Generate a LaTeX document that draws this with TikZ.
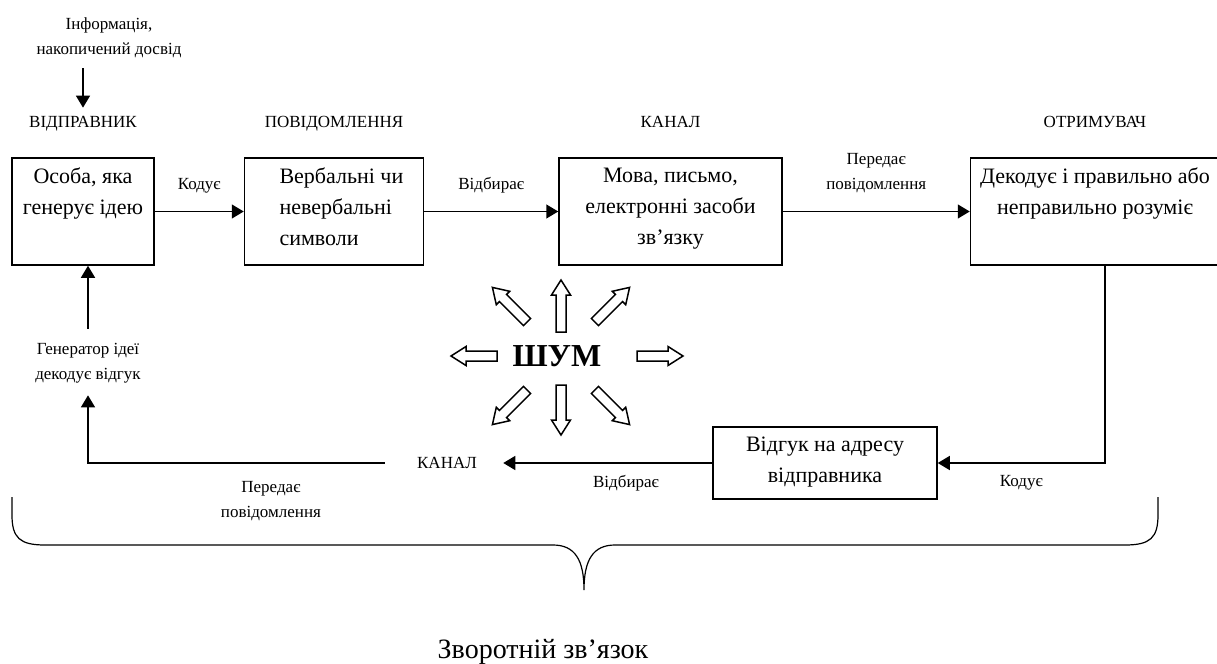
\documentclass[tikz,border=0pt]{standalone}
\usepackage{fontspec}
\setmainfont{Liberation Serif}
\usetikzlibrary{arrows.meta, positioning, calc}
\newcommand{\boxfont}{\fontsize{11}{15.5}\selectfont}
\newcommand{\lblfont}{\fontsize{8.5}{12.5}\selectfont}

\begin{document}
\begin{tikzpicture}[
    x=0.5pt, y=-0.5pt,
    box/.style n args={3}{draw, line width=0.75pt, inner sep=0pt, font=\boxfont,
        execute at begin node={\begin{minipage}[c][#2][t]{#1}#3\vspace{5pt}},
        execute at end node={\end{minipage}}},
    head/.style={font=\lblfont, inner sep=1pt},
    lbl/.style={font=\lblfont, inner sep=1pt, align=center},
    arrow/.style={-{Triangle[length=6pt, width=7pt]}, line width=0.75pt},
    noisearrow/.style={draw, line width=0.75pt, line join=miter, fill=white}
]
    \useasboundingbox (0,0) rectangle (1217,664);

    % Top row
    \node[box={71pt}{53.5pt}{\centering}] (sender) at (83,211.5) {Особа, яка\\генерує ідею};
    \node[box={89.5pt}{53.5pt}{\raggedright\leftskip=17.5pt}, right=44.5pt of sender] (message) {Вербальні чи\\невербальні\\символи};
    \node[box={111.5pt}{53.5pt}{\centering}, right=67pt of message] (channel) {Мова, письмо,\\електронні засоби\\зв’язку};
    \node[box={124.5pt}{53.5pt}{\centering}, right=93.5pt of channel] (receiver) {Декодує і правильно або\\неправильно розуміє};

    % Headings
    \node[head, above=15pt of sender, anchor=base] (senderhead) {ВІДПРАВНИК};
    \node[head, above=15pt of message, anchor=base] (messagehead) {ПОВІДОМЛЕННЯ};
    \node[head, above=15pt of channel, anchor=base] (channelhead) {КАНАЛ};
    \node[head, above=15pt of receiver, anchor=base] (receiverhead) {ОТРИМУВАЧ};

    \node[lbl] (info) at (109,38) {Інформація,\\накопичений досвід};
    \draw[arrow, shorten <=4pt, shorten >=3pt] (info.south -| senderhead.north) -- (senderhead.north);

    \draw[arrow] (sender) -- node[lbl, above=8pt] (encode) {Кодує} (message);
    \draw[arrow] (message) -- node[lbl, above=8pt] (select) {Відбирає} (channel);
    \draw[arrow] (channel) -- node[lbl, above=8pt] (transmit) {Передає\\повідомлення} (receiver);

    % Feedback
    \node[box={112pt}{36pt}{\centering}] (response) at (825,463) {Відгук на адресу\\відправника};
    \node[head] (backchannel) at (447,463) {КАНАЛ};
    \node[lbl] (decode) at (88,363) {Генератор ідеї\\декодує відгук};

    \draw[arrow] ([xshift=5pt]receiver.south) |- node[lbl, below=5pt, pos=0.75] (backencode) {Кодує} (response.east);
    \draw[arrow, shorten >=12pt] (response.west) -- node[lbl, below=5pt, pos=0.37] (backselect) {Відбирає} (backchannel.east);
    \draw[arrow, shorten <=15pt, shorten >=5pt] (backchannel.west) -| node[lbl, below=8pt, pos=0.22] (backtransmit) {Передає\\повідомлення} (decode.south);
    \draw[arrow, shorten <=6pt] (decode.north) -- (decode.north |- sender.south);

    % Noise
    \node[font=\fontsize{16}{19}\selectfont\bfseries, inner sep=1pt] (noise) at (557,356) {ШУМ};
    \foreach \a/\r/\l in {0/76/46, 45/48/49, 90/24/52, 135/48/49, 180/64/46, 225/48/49, 270/29/50, 315/48/49}
        \draw[noisearrow, shift={($(noise)+(4,0)$)}, rotate=\a]
            (\r,-5) -- ++(\l-15,0) -- ++(0,-4.5) -- (\r+\l,0) -- (\r+\l-15,9.5) -- ++(0,-4.5) -- (\r,5) -- cycle;

    % Brace
    \draw[line width=0.6pt] (12,497) -- (12,515) .. controls (12,538) and (20,545) .. (45,545) -- (553,545)
        .. controls (575,545) and (584,560) .. (584,590) .. controls (584,560) and (593,545) .. (615,545)
        -- (1125,545) .. controls (1150,545) and (1158,538) .. (1158,515) -- (1158,497);
    \node[font=\fontsize{14}{16}\selectfont, inner sep=1pt] (feedbacktitle) at (543,652) {Зворотній зв’язок};
\end{tikzpicture}
\end{document}
